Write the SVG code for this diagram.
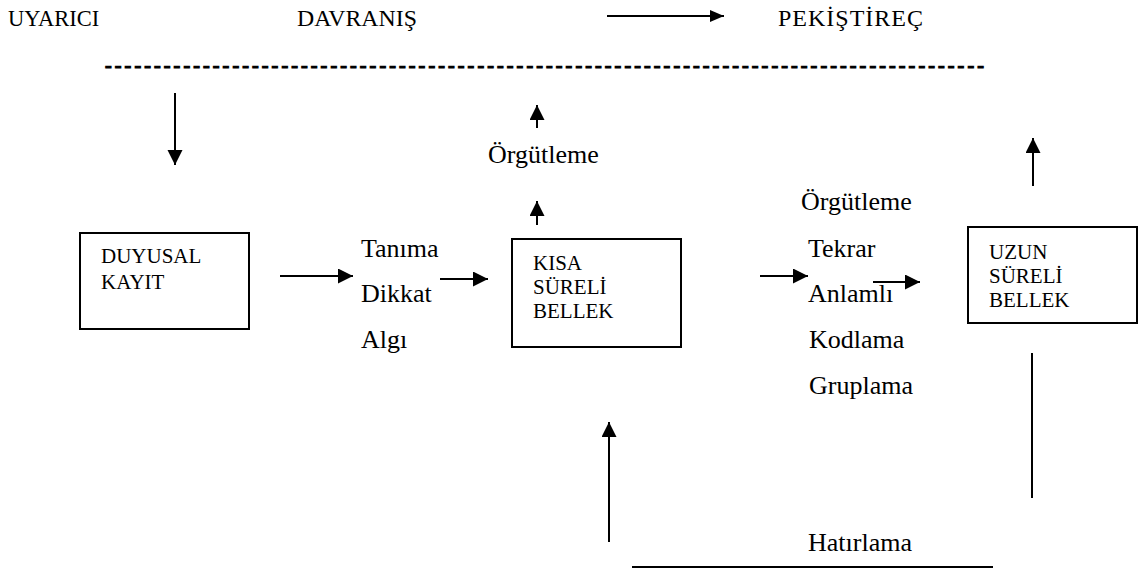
<svg xmlns="http://www.w3.org/2000/svg" width="1140" height="572" viewBox="0 0 1140 572">
<defs>
<marker id="ah" markerUnits="userSpaceOnUse" markerWidth="16" markerHeight="16" refX="15" refY="7.5" orient="auto" viewBox="0 0 16 16">
<path d="M0,0 L15,7.5 L0,15 z" fill="#000" stroke="none"/>
</marker>
<marker id="ahs" markerUnits="userSpaceOnUse" markerWidth="15" markerHeight="13" refX="14" refY="6" orient="auto" viewBox="0 0 15 13">
<path d="M0,0 L14,6 L0,12 z" fill="#000" stroke="none"/>
</marker>
</defs>
<rect width="1140" height="572" fill="#fff"/>
<g id="labels" fill="#000">
<text x="8" y="26" font-family="Liberation Serif, serif" font-size="22.5">UYARICI</text>
<text x="297" y="26" font-family="Liberation Serif, serif" font-size="23.8">DAVRANIŞ</text>
<text x="778" y="26" font-family="Liberation Serif, serif" font-size="24" letter-spacing="1">PEKİŞTİREÇ</text>
<text x="105" y="72" font-family="Liberation Serif, serif" font-size="20" letter-spacing="3.14" stroke="#000" stroke-width="1.2">------------------------------------------------------------------------------------------</text>
</g>
<g id="duyusal" fill="#000">
<rect x="80" y="233" width="169" height="96" fill="#fff" stroke="#000" stroke-width="2"/>
<text x="101" y="263" font-family="Liberation Serif, serif" font-size="21">DUYUSAL</text>
<text x="101" y="289" font-family="Liberation Serif, serif" font-size="21">KAYIT</text>
</g>
<g id="islem1" fill="#000">
<text x="361" y="257" font-family="Liberation Serif, serif" font-size="26">Tanıma</text>
<text x="361" y="302" font-family="Liberation Serif, serif" font-size="26">Dikkat</text>
<text x="361" y="348" font-family="Liberation Serif, serif" font-size="26">Algı</text>
</g>
<g id="kisa" fill="#000">
<rect x="512" y="239" width="169" height="108" fill="#fff" stroke="#000" stroke-width="2"/>
<text x="533" y="270" font-family="Liberation Serif, serif" font-size="21">KISA</text>
<text x="533" y="294" font-family="Liberation Serif, serif" font-size="21">SÜRELİ</text>
<text x="533" y="318" font-family="Liberation Serif, serif" font-size="21">BELLEK</text>
</g>
<g id="orgutleme1" fill="#000">
<text x="488" y="163" font-family="Liberation Serif, serif" font-size="26">Örgütleme</text>
</g>
<g id="islem2" fill="#000">
<text x="801" y="210" font-family="Liberation Serif, serif" font-size="26">Örgütleme</text>
<text x="808" y="257" font-family="Liberation Serif, serif" font-size="26">Tekrar</text>
<text x="808" y="302" font-family="Liberation Serif, serif" font-size="26">Anlamlı</text>
<text x="809" y="348" font-family="Liberation Serif, serif" font-size="26">Kodlama</text>
<text x="809" y="394" font-family="Liberation Serif, serif" font-size="26">Gruplama</text>
</g>
<g id="uzun" fill="#000">
<rect x="968" y="227" width="169" height="96" fill="#fff" stroke="#000" stroke-width="2"/>
<text x="989" y="259" font-family="Liberation Serif, serif" font-size="21">UZUN</text>
<text x="989" y="283" font-family="Liberation Serif, serif" font-size="21">SÜRELİ</text>
<text x="989" y="307" font-family="Liberation Serif, serif" font-size="21">BELLEK</text>
</g>
<g id="hatirlama" fill="#000">
<text x="808" y="551" font-family="Liberation Serif, serif" font-size="26">Hatırlama</text>
</g>
<g id="connectors" stroke="#000" stroke-width="2" fill="none">
<line marker-end="url(#ahs)" x1="607" y1="16" x2="724" y2="16"/>
<line marker-end="url(#ah)" x1="175" y1="93" x2="175" y2="165"/>
<line marker-end="url(#ah)" x1="280" y1="276" x2="353" y2="276"/>
<line marker-end="url(#ah)" x1="440" y1="279" x2="488" y2="279"/>
<line marker-end="url(#ah)" x1="537" y1="225" x2="537" y2="201"/>
<line marker-end="url(#ah)" x1="537" y1="128" x2="537" y2="105"/>
<line marker-end="url(#ah)" x1="760" y1="276" x2="808" y2="276"/>
<line marker-end="url(#ah)" x1="873" y1="282" x2="920" y2="282"/>
<line marker-end="url(#ah)" x1="1033" y1="186" x2="1033" y2="138"/>
<line x1="1032" y1="353" x2="1032" y2="498"/>
<line marker-end="url(#ah)" x1="609" y1="542" x2="609" y2="422"/>
<line x1="632" y1="567" x2="993" y2="567"/>
</g>
</svg>
